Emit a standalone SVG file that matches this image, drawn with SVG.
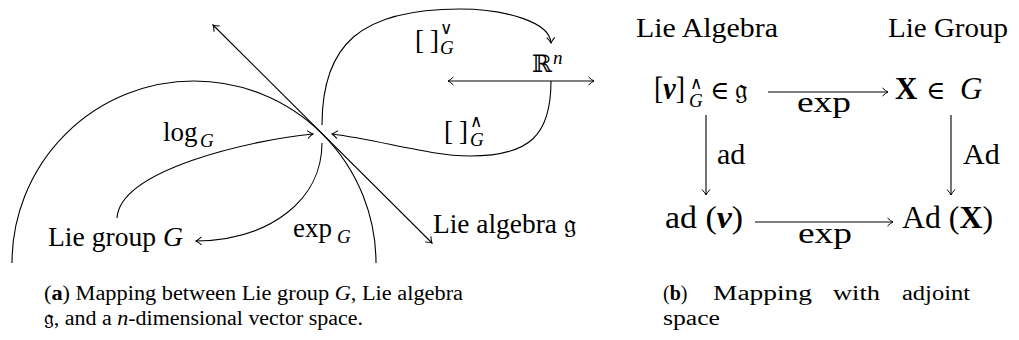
<svg xmlns="http://www.w3.org/2000/svg" width="1019" height="340" viewBox="0 0 1019 340">
<style>
text{font-family:"Liberation Serif","DejaVu Serif",serif;fill:#000}
.t{font-size:27px}
.h{font-size:27px}
.m{font-size:31px}
.l{font-size:30px}
.s{font-size:19px}
.sup{font-size:17px}
.c{font-size:20px}
.i{font-style:italic}
.b{font-weight:bold}
.bi{font-weight:bold;font-style:italic}
.sym{font-family:"DejaVu Serif","Liberation Serif",serif}
.ln{fill:none;stroke:#000;stroke-width:1.1}
</style>
<defs>
<marker id="ar" viewBox="-7 -5 8 10" refX="0" refY="0" markerWidth="8" markerHeight="10" markerUnits="userSpaceOnUse" orient="auto-start-reverse">
<path d="M-5.5,-4 Q-2,-0.8 0,0 Q-2,0.8 -5.5,4" fill="none" stroke="#000" stroke-width="1"/>
</marker>
</defs>

<g id="connectors">
<path class="ln" d="M12,263 A182,182 0 0 1 376,263"/>
<line class="ln" x1="213" y1="25" x2="432" y2="243" marker-start="url(#ar)" marker-end="url(#ar)"/>
<path class="ln" d="M117,218 C120,170 250,140 313,134" marker-end="url(#ar)"/>
<path class="ln" d="M322,143 C322,200 270,240 196,241" marker-end="url(#ar)"/>
<path class="ln" d="M322,125 C322,45 360,9 460,9 C505,9 550,22 551,43" marker-end="url(#ar)"/>
<line class="ln" x1="448" y1="81" x2="594" y2="81" marker-start="url(#ar)" marker-end="url(#ar)"/>
<path class="ln" d="M551,81 C551,135 530,156 470,156 C430,156 380,140 332,134" marker-end="url(#ar)"/>
<line class="ln" x1="768" y1="92" x2="888" y2="92" marker-end="url(#ar)"/>
<line class="ln" x1="755" y1="222" x2="893" y2="222" marker-end="url(#ar)"/>
<line class="ln" x1="706" y1="115" x2="706" y2="195" marker-end="url(#ar)"/>
<line class="ln" x1="951" y1="115" x2="951" y2="195" marker-end="url(#ar)"/>
</g>

<g id="lie-group-node"><text class="t" x="48" y="246" textLength="135" lengthAdjust="spacingAndGlyphs">Lie group <tspan class="i">G</tspan></text></g>
<g id="lie-algebra-node"><text class="t" x="433" y="233" textLength="143" lengthAdjust="spacingAndGlyphs">Lie algebra <tspan class="sym">𝔤</tspan></text></g>
<g id="rn-node"><text class="sym" x="532" y="72" font-size="24">ℝ</text><text class="s i" x="553" y="64">n</text></g>
<g id="log-label"><text class="t" x="163" y="141">log</text><text class="s i" x="200" y="147">G</text></g>
<g id="exp-label"><text class="t" x="293" y="237">exp</text><text class="s i" x="337" y="243">G</text></g>
<g id="vee-label"><text class="t" x="415" y="49">[</text><text class="t" x="430" y="49">]</text><text class="sup sym" x="440" y="34">∨</text><text class="s i" x="440" y="54">G</text></g>
<g id="wedge-label"><text class="t" x="444" y="140">[</text><text class="t" x="459" y="140">]</text><text class="sup sym" x="470" y="127">∧</text><text class="s i" x="470" y="146">G</text></g>

<g id="header-algebra"><text class="h" x="636" y="37" textLength="142" lengthAdjust="spacingAndGlyphs">Lie Algebra</text></g>
<g id="header-group"><text class="h" x="888" y="37" textLength="120" lengthAdjust="spacingAndGlyphs">Lie Group</text></g>
<g id="v-hat-node"><text class="m" x="654" y="99" textLength="31" lengthAdjust="spacingAndGlyphs">[<tspan class="bi">v</tspan>]</text><text class="sup sym" x="690" y="89">∧</text><text class="s i" x="689" y="107">G</text><text class="sym" x="710" y="99" font-size="26">∈</text><text class="sym" x="735" y="99" font-size="28">𝔤</text></g>
<g id="x-node"><text class="m b" x="895" y="99">X</text><text class="sym" x="926" y="99" font-size="26">∈</text><text class="m i" x="960" y="99">G</text></g>
<g id="ad-v-node"><text class="m" x="665" y="228" textLength="78" lengthAdjust="spacingAndGlyphs">ad (<tspan class="bi">v</tspan>)</text></g>
<g id="ad-x-node"><text class="m" x="902" y="228" textLength="91" lengthAdjust="spacingAndGlyphs">Ad (<tspan class="b">X</tspan>)</text></g>
<g id="labels-b"><text class="l" x="797" y="112" textLength="54" lengthAdjust="spacingAndGlyphs">exp</text><text class="l" x="798" y="243" textLength="54" lengthAdjust="spacingAndGlyphs">exp</text><text class="l" x="717" y="164">ad</text><text class="l" x="963" y="164">Ad</text></g>

<g id="caption-a"><text class="c" x="44" y="300" textLength="419" lengthAdjust="spacingAndGlyphs">(<tspan class="b">a</tspan>) Mapping between Lie group <tspan class="i">G</tspan>, Lie algebra</text><text class="c" x="44" y="325" textLength="319" lengthAdjust="spacingAndGlyphs"><tspan class="sym">𝔤</tspan>, and a <tspan class="i">n</tspan>-dimensional vector space.</text></g>
<g id="caption-b"><text class="c" x="663" y="300">(<tspan class="b">b</tspan>)</text><text class="c" x="713" y="300" textLength="99" lengthAdjust="spacingAndGlyphs">Mapping</text><text class="c" x="833" y="300" textLength="47" lengthAdjust="spacingAndGlyphs">with</text><text class="c" x="902" y="300" textLength="68" lengthAdjust="spacingAndGlyphs">adjoint</text><text class="c" x="663" y="325" textLength="57" lengthAdjust="spacingAndGlyphs">space</text></g>
</svg>
